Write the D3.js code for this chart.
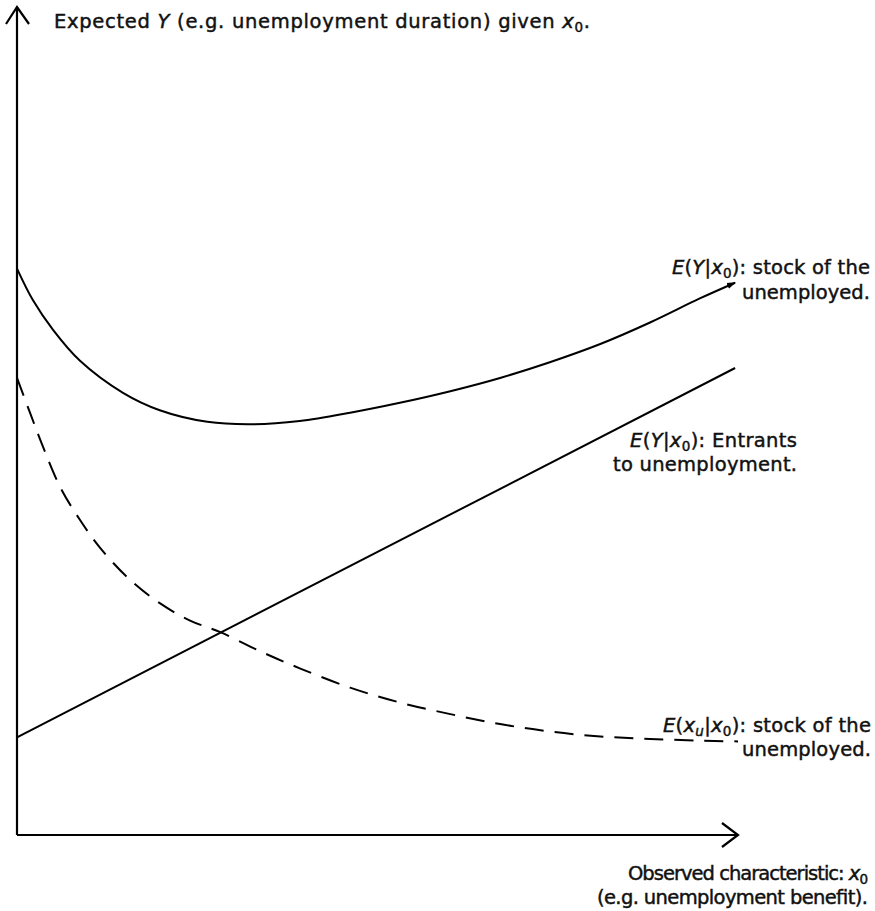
<!DOCTYPE html>
<html>
<head>
<meta charset="utf-8">
<script src="https://cdn.jsdelivr.net/npm/d3@7"></script>
<style>
  body { margin: 0; background: #fff; }
  text { font-family: "DejaVu Sans", "Liberation Sans", Arial, sans-serif; font-size: 19.5px; fill: #111; stroke: #111; stroke-width: 0.45px; }
</style>
</head>
<body>
<div id="chart"></div>
<script>
// curve values (x: 0-100 along the axis, y: 0-100 up the axis)
const stockX = [0, 2.2, 5.0, 8.7, 14.7, 19.8, 26.4, 32.3, 39.2, 46.2, 53.1, 60.1, 67.0, 73.9, 80.9, 87.8, 94.7, 99.6];
const stockY = [68.4, 64.6, 61.0, 57.3, 53.4, 51.3, 49.9, 49.6, 50.0, 51.0, 52.2, 53.6, 55.2, 57.1, 59.3, 61.9, 64.8, 66.7];

const entrantsX = [0, 99.6];
const entrantsY = [11.8, 56.4];

const covX = [0, 1.8, 3.6, 6.0, 8.7, 11.5, 15.7, 19.8, 24.0, 28.2, 33.7, 39.3, 46.2, 53.1, 60.1, 67.0, 73.9, 80.9, 87.8, 94.7, 100];
const covY = [55.2, 51.0, 46.9, 42.0, 38.1, 34.7, 30.8, 28.0, 25.9, 24.5, 22.2, 20.1, 17.8, 16.0, 14.6, 13.4, 12.5, 11.9, 11.6, 11.4, 11.3];

const width = 875, height = 911;
const margin = { left: 17, right: 137, top: 7, bottom: 76 };

const svg = d3.select('#chart').append('svg')
  .attr('width', width)
  .attr('height', height);

const x = d3.scaleLinear().domain([0, 100]).range([margin.left, width - margin.right]);
const y = d3.scaleLinear().domain([0, 100]).range([height - margin.bottom, margin.top]);

// axes
const axes = svg.append('g')
  .attr('fill', 'none')
  .attr('stroke', '#000')
  .attr('stroke-width', 2.2);

axes.append('line')
  .attr('x1', x(0)).attr('y1', y(0))
  .attr('x2', x(0)).attr('y2', y(100));
axes.append('path')
  .attr('d', `M${x(0) - 11},${y(100) + 17} L${x(0)},${y(100)} L${x(0) + 12},${y(100) + 17}`);

axes.append('line')
  .attr('x1', x(0)).attr('y1', y(0))
  .attr('x2', x(100)).attr('y2', y(0));
axes.append('path')
  .attr('d', `M${x(100) - 16},${y(0) - 12} L${x(100)},${y(0)} L${x(100) - 16},${y(0) + 12}`);

// small arrowhead for the stock curve
svg.append('defs').append('marker')
  .attr('id', 'tip')
  .attr('viewBox', '0 0 10 10')
  .attr('refX', 9).attr('refY', 5)
  .attr('markerWidth', 4.5).attr('markerHeight', 4.5)
  .attr('orient', 'auto')
  .append('path')
  .attr('d', 'M0,1.5 L10,5 L0,8.5 Z')
  .attr('fill', '#000');

const line = d3.line()
  .x(d => x(d[0]))
  .y(d => y(d[1]))
  .curve(d3.curveCatmullRom.alpha(0.5));

svg.append('path')
  .datum(d3.zip(stockX, stockY))
  .attr('d', line)
  .attr('fill', 'none')
  .attr('stroke', '#000')
  .attr('stroke-width', 2)
  .attr('marker-end', 'url(#tip)');

svg.append('path')
  .datum(d3.zip(entrantsX, entrantsY))
  .attr('d', line)
  .attr('fill', 'none')
  .attr('stroke', '#000')
  .attr('stroke-width', 2);

svg.append('path')
  .datum(d3.zip(covX, covY))
  .attr('d', line)
  .attr('fill', 'none')
  .attr('stroke', '#000')
  .attr('stroke-width', 2)
  .attr('stroke-dasharray', '19,11');

// text helper: parts are [string, style]; 'i' italic, 'sub' subscript, 'back' back to baseline
function label(px, py, anchor, len, parts) {
  const t = svg.append('text')
    .attr('x', px).attr('y', py)
    .attr('text-anchor', anchor)
    .attr('textLength', len)
    .attr('lengthAdjust', 'spacing');
  parts.forEach(p => {
    const s = t.append('tspan').text(p[0]);
    if (p[1].includes('i')) s.attr('font-style', 'italic');
    if (p[1].includes('sub')) s.attr('font-size', '13.5px').attr('dy', 4);
    if (p[1].includes('back')) s.attr('dy', -4);
  });
  return t;
}

label(54, 28, 'start', 536, [['Expected ', ''], ['Y', 'i'], [' (e.g. unemployment duration) given ', ''], ['x', 'i'], ['0', 'sub'], ['.', 'back']]);

label(870, 274, 'end', 198, [['E', 'i'], ['(', ''], ['Y', 'i'], ['|', ''], ['x', 'i'], ['0', 'sub'], ['): stock of the', 'back']]);
label(870, 299, 'end', 128, [['unemployed.', '']]);

label(797, 447, 'end', 167, [['E', 'i'], ['(', ''], ['Y', 'i'], ['|', ''], ['x', 'i'], ['0', 'sub'], ['): Entrants', 'back']]);
label(797, 471, 'end', 184, [['to unemployment.', '']]);

label(871, 732, 'end', 208, [['E', 'i'], ['(', ''], ['x', 'i'], ['u', 'i sub'], ['|', 'back'], ['x', 'i'], ['0', 'sub'], ['): stock of the', 'back']]);
label(871, 756, 'end', 129, [['unemployed.', '']]);

label(868, 880, 'end', 240, [['Observed characteristic: ', ''], ['x', 'i'], ['0', 'sub']]);
label(868, 904, 'end', 271, [['(e.g. unemployment benefit).', '']]);
</script>
</body>
</html>
